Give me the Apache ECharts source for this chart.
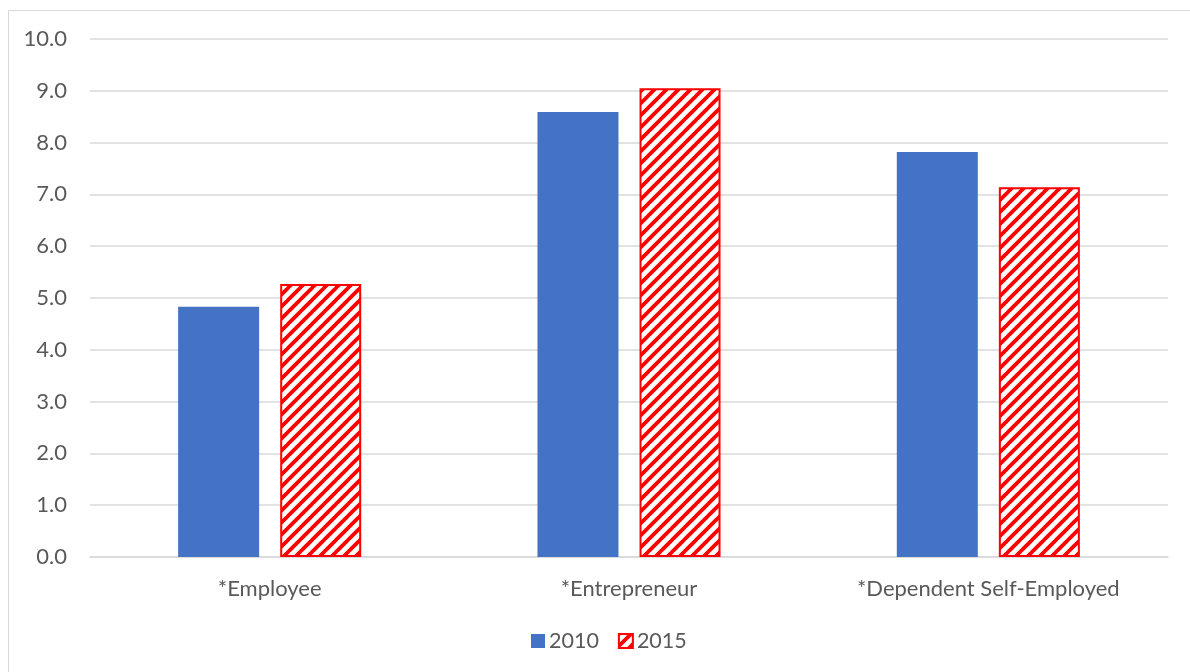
<!DOCTYPE html>
<html>
<head>
<meta charset="utf-8">
<script src="https://cdn.jsdelivr.net/npm/echarts@6/dist/echarts.min.js"></script>
<style>
  html, body { margin: 0; padding: 0; background: #fff; }
  #chart { width: 1190px; height: 672px; }
</style>
</head>
<body>
<div id="chart"></div>
<script>
// Category labels, years and values
const categories = ['*Employee', '*Entrepreneur', '*Dependent Self-Employed'];
const years = ['2010', '2015'];
const values2010 = [4.83, 8.59, 7.82];
const values2015 = [5.27, 9.05, 7.14];

// Red diagonal hatch fill for the 2015 bars
function makeHatch() {
  const s = 12;
  const c = document.createElement('canvas');
  c.width = s; c.height = s;
  const ctx = c.getContext('2d');
  ctx.fillStyle = '#fff';
  ctx.fillRect(0, 0, s, s);
  ctx.strokeStyle = '#ff0000';
  ctx.lineWidth = 3.8;
  ctx.beginPath();
  for (let k = -1; k <= 1; k++) {
    ctx.moveTo(k * s - 1, s + 1);
    ctx.lineTo(k * s + s + 1, -1);
  }
  ctx.stroke();
  return c;
}
const hatch = { image: makeHatch(), repeat: 'repeat' };

const font = 'Lato, "Liberation Sans", sans-serif';
const textColor = '#595959';
const chart = echarts.init(document.getElementById('chart'), null, { renderer: 'canvas' });
chart.setOption({
  animation: false,
  backgroundColor: '#fff',
  graphic: [{
    type: 'rect',
    shape: { x: 8.5, y: 10.5, width: 1190, height: 672 },
    style: { fill: 'none', stroke: '#d9d9d9', lineWidth: 1 },
    silent: true
  }],
  grid: { left: 90, right: 22, top: 39, bottom: 115 },
  legend: {
    bottom: 15,
    left: 526,
    icon: 'rect',
    itemWidth: 14,
    itemHeight: 14,
    itemGap: 19,
    textStyle: { color: textColor, fontSize: 21.5, fontFamily: font, padding: [0, 0, 0, -1] },
    data: years
  },
  xAxis: {
    type: 'category',
    data: categories,
    axisLine: { lineStyle: { color: '#d9d9d9', width: 1.5 } },
    axisTick: { show: false },
    axisLabel: { color: textColor, fontSize: 22, fontFamily: font, margin: 21 }
  },
  yAxis: {
    type: 'value',
    min: 0, max: 10, interval: 1,
    axisLine: { show: false },
    axisTick: { show: false },
    splitLine: { lineStyle: { color: '#d9d9d9', width: 1.5 } },
    axisLabel: {
      color: textColor, fontSize: 22, fontFamily: font, margin: 23,
      formatter: v => v.toFixed(1)
    }
  },
  series: [
    {
      name: years[0], type: 'bar', data: values2010,
      barWidth: 81, barGap: '26%',
      itemStyle: { color: '#4472c4' }
    },
    {
      name: years[1], type: 'bar', data: values2015,
      barWidth: 81,
      itemStyle: { color: hatch, borderColor: '#ff0000', borderWidth: 2 }
    }
  ]
});
</script>
</body>
</html>
